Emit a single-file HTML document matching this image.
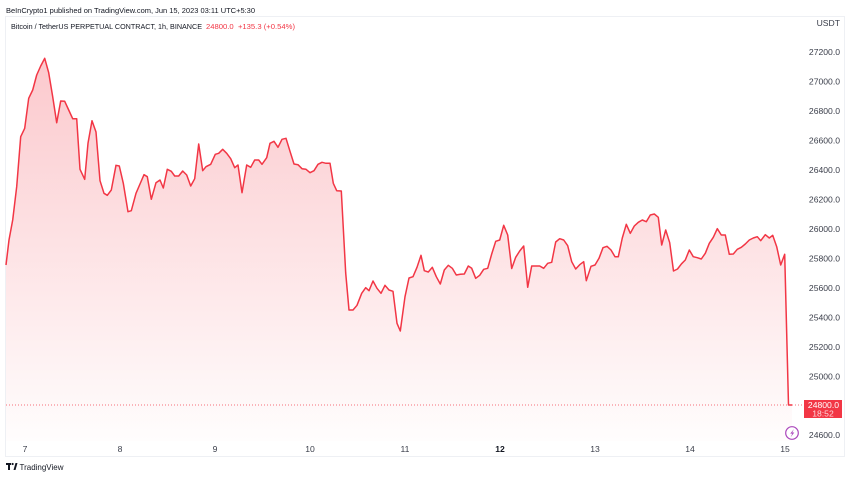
<!DOCTYPE html>
<html>
<head>
<meta charset="utf-8">
<style>
  html,body{margin:0;padding:0;background:#fff;}
  body{width:850px;height:478px;overflow:hidden;}
  svg{display:block;font-family:"Liberation Sans",sans-serif;}
</style>
</head>
<body>
<svg width="850" height="478" viewBox="0 0 850 478" xmlns="http://www.w3.org/2000/svg">
  <defs>
    <linearGradient id="fg" x1="0" y1="58" x2="0" y2="441" gradientUnits="userSpaceOnUse">
      <stop offset="0" stop-color="#f23645" stop-opacity="0.27"/>
      <stop offset="1" stop-color="#f23645" stop-opacity="0.01"/>
    </linearGradient>
  </defs>

  <!-- header -->
  <text x="6" y="13" font-size="7.6" fill="#131722" textLength="249" lengthAdjust="spacingAndGlyphs">BeInCrypto1 published on TradingView.com, Jun 15, 2023 03:11 UTC+5:30</text>

  <!-- frame -->
  <rect x="5.5" y="16.5" width="839" height="440" fill="#fff" stroke="#eef0f4" stroke-width="1"/>

  <text x="11" y="29" font-size="7.4" fill="#131722" textLength="191" lengthAdjust="spacingAndGlyphs">Bitcoin / TetherUS PERPETUAL CONTRACT, 1h, BINANCE</text>
  <text x="206" y="29" font-size="7.4" fill="#f23645" textLength="89" lengthAdjust="spacingAndGlyphs">24800.0 &#160;+135.3 (+0.54%)</text>

  <!-- area fill -->
  <polygon fill="url(#fg)" points="6,441 6,265 9,240 12.7,220 16.7,186.7 20.7,136.7 24.7,128.3 28.7,98.3 32.7,90 36.7,75 40.7,66 44.7,58.3 48.7,72.7 52.7,96.7 56.7,122.7 60.7,101 64.7,101.3 68.7,110 72.7,118.7 76.7,118.7 80,169.3 84.7,179.3 88,143.3 92,120.7 96,132 100,180.7 104,193.3 107.3,195.3 111.3,190 116,165.3 119.3,166 123.3,183.3 128,211.7 131.3,210.7 136,193.3 140,184 144,174.7 147.3,176.7 151.3,199.3 156,182.7 160,180 163.3,188 167.3,169.3 171.3,171.3 174.7,176 178.7,176 182.7,171 186.7,175 190.7,186 194.7,178.7 198.7,144 202.7,170.7 206,166.7 210.7,164.3 215.3,154.3 218.7,153.3 222.7,149.3 226.7,153.3 230.7,158.7 234.7,167.7 238,165 242,192.7 246.7,165 250.7,167.3 254.7,160 258.7,160 262,164.3 266.7,157.7 270,143.3 274,141.3 278,147.3 282,139.3 286,138.3 290,151.3 294,164 298,164.7 302,168.7 306,169.3 310,172.7 314,170.7 318,164.3 322,162.3 326,163.3 330,163.3 333.3,183.3 336.7,190.7 341.3,191 345.7,273 349,310 353,310 357,305.3 361.7,293.3 365.7,287.7 369,290.7 373,281 377,288.3 381,293.3 385,285.3 389,290 393,291.3 397,323.3 400.3,331 405,296.7 409,278 413,276.7 417,267.3 421,255.3 424.3,270.7 428.3,272 432.3,267.3 436.3,276.7 440.3,284 444.3,270 448.3,265.3 452.3,268.3 456.3,275 460.3,274.3 464.3,274 468.3,266 471.7,268.3 475.7,278.3 479.7,275.3 483.7,269.3 487.7,268.3 491.7,254 495.7,241.3 499.7,240 503.7,225.3 507.7,235 511.7,268.5 515.7,257.3 519.7,251 523.7,246 527.7,287.3 531.7,266 535.7,266 539.7,266 543.7,268.3 547.7,263.3 551.7,262.3 555.7,242 559.7,238.7 563.7,240 567.7,245.7 571.7,261.7 575.7,269 579.7,264.7 583.7,261.7 586.3,280.7 591,266.3 595,265 599,258.3 603,247.7 607,246.3 611,250 615,256.7 618.3,256.7 622.3,238 626.3,224.3 630.3,233.3 634.3,226 638.3,222.3 642.3,220 646.3,221.7 650.3,215 654.3,214 658.3,217.3 661.7,245 665.7,230 669.7,242.7 673.5,271 677.5,269 681.5,263.8 685.3,260 689.3,250 693.3,256.7 697.3,257.7 701.3,259 705.3,253.3 709.3,243.3 713.3,237.3 717.3,228.7 721.3,235 725.3,235 729.3,254.3 733.3,254 737.3,249.3 741.3,247.3 745.3,244 749.3,240 753.3,238 757.3,236.7 760.7,240.7 765.3,234.7 769.3,238 772.7,235.3 776.7,246.7 780.7,265 784.7,254.3 788.5,405 792,405 792,441"/>

  <!-- dotted last-price line -->
  <line x1="6" y1="405" x2="804" y2="405" stroke="#f23645" stroke-width="1" stroke-dasharray="1,2" opacity="0.7"/>

  <!-- price line -->
  <polyline fill="none" stroke="#f23645" stroke-width="1.5" stroke-linejoin="round" points="6,265 9,240 12.7,220 16.7,186.7 20.7,136.7 24.7,128.3 28.7,98.3 32.7,90 36.7,75 40.7,66 44.7,58.3 48.7,72.7 52.7,96.7 56.7,122.7 60.7,101 64.7,101.3 68.7,110 72.7,118.7 76.7,118.7 80,169.3 84.7,179.3 88,143.3 92,120.7 96,132 100,180.7 104,193.3 107.3,195.3 111.3,190 116,165.3 119.3,166 123.3,183.3 128,211.7 131.3,210.7 136,193.3 140,184 144,174.7 147.3,176.7 151.3,199.3 156,182.7 160,180 163.3,188 167.3,169.3 171.3,171.3 174.7,176 178.7,176 182.7,171 186.7,175 190.7,186 194.7,178.7 198.7,144 202.7,170.7 206,166.7 210.7,164.3 215.3,154.3 218.7,153.3 222.7,149.3 226.7,153.3 230.7,158.7 234.7,167.7 238,165 242,192.7 246.7,165 250.7,167.3 254.7,160 258.7,160 262,164.3 266.7,157.7 270,143.3 274,141.3 278,147.3 282,139.3 286,138.3 290,151.3 294,164 298,164.7 302,168.7 306,169.3 310,172.7 314,170.7 318,164.3 322,162.3 326,163.3 330,163.3 333.3,183.3 336.7,190.7 341.3,191 345.7,273 349,310 353,310 357,305.3 361.7,293.3 365.7,287.7 369,290.7 373,281 377,288.3 381,293.3 385,285.3 389,290 393,291.3 397,323.3 400.3,331 405,296.7 409,278 413,276.7 417,267.3 421,255.3 424.3,270.7 428.3,272 432.3,267.3 436.3,276.7 440.3,284 444.3,270 448.3,265.3 452.3,268.3 456.3,275 460.3,274.3 464.3,274 468.3,266 471.7,268.3 475.7,278.3 479.7,275.3 483.7,269.3 487.7,268.3 491.7,254 495.7,241.3 499.7,240 503.7,225.3 507.7,235 511.7,268.5 515.7,257.3 519.7,251 523.7,246 527.7,287.3 531.7,266 535.7,266 539.7,266 543.7,268.3 547.7,263.3 551.7,262.3 555.7,242 559.7,238.7 563.7,240 567.7,245.7 571.7,261.7 575.7,269 579.7,264.7 583.7,261.7 586.3,280.7 591,266.3 595,265 599,258.3 603,247.7 607,246.3 611,250 615,256.7 618.3,256.7 622.3,238 626.3,224.3 630.3,233.3 634.3,226 638.3,222.3 642.3,220 646.3,221.7 650.3,215 654.3,214 658.3,217.3 661.7,245 665.7,230 669.7,242.7 673.5,271 677.5,269 681.5,263.8 685.3,260 689.3,250 693.3,256.7 697.3,257.7 701.3,259 705.3,253.3 709.3,243.3 713.3,237.3 717.3,228.7 721.3,235 725.3,235 729.3,254.3 733.3,254 737.3,249.3 741.3,247.3 745.3,244 749.3,240 753.3,238 757.3,236.7 760.7,240.7 765.3,234.7 769.3,238 772.7,235.3 776.7,246.7 780.7,265 784.7,254.3 788.5,405 792,405"/>

  <!-- price axis -->
  <g font-size="8.6" fill="#3a3e4a" text-anchor="end">
    <text x="840" y="26">USDT</text>
    <text x="840" y="55">27200.0</text>
    <text x="840" y="84.5">27000.0</text>
    <text x="840" y="114">26800.0</text>
    <text x="840" y="143.5">26600.0</text>
    <text x="840" y="173">26400.0</text>
    <text x="840" y="202.5">26200.0</text>
    <text x="840" y="232">26000.0</text>
    <text x="840" y="261.5">25800.0</text>
    <text x="840" y="291">25600.0</text>
    <text x="840" y="320.5">25400.0</text>
    <text x="840" y="350">25200.0</text>
    <text x="840" y="379.5">25000.0</text>
    <text x="840" y="438">24600.0</text>
  </g>

  <!-- last price label -->
  <rect x="804" y="400" width="38" height="18" fill="#f23645"/>
  <text x="839" y="408" font-size="8.6" fill="#fff" text-anchor="end">24800.0</text>
  <text x="823" y="416.5" font-size="8.6" fill="#fff" fill-opacity="0.8" text-anchor="middle">18:52</text>

  <!-- lightning icon -->
  <circle cx="792" cy="433" r="6.3" fill="#fff" stroke="#ab47bc" stroke-width="1.2"/>
  <path d="M794,429 L790.2,433.6 L792.3,433.6 L790.6,437.2 L794.3,432.5 L792.2,432.5 Z" fill="#ab47bc"/>

  <!-- time axis -->
  <g font-size="8.6" fill="#3a3e4a" text-anchor="middle">
    <text x="25" y="452">7</text>
    <text x="120" y="452">8</text>
    <text x="215" y="452">9</text>
    <text x="310" y="452">10</text>
    <text x="405" y="452">11</text>
    <text x="500" y="452" font-weight="bold" fill="#131722">12</text>
    <text x="595" y="452">13</text>
    <text x="690" y="452">14</text>
    <text x="785" y="452">15</text>
  </g>

  <!-- TradingView logo -->
  <g fill="#131722">
    <rect x="6" y="463" width="5" height="2"/>
    <rect x="8" y="463" width="2" height="7"/>
    <circle cx="12.6" cy="464" r="1.1"/>
    <path d="M13.5,470 L15.5,463 L17.5,463 L15.5,470 Z"/>
  </g>
  <text x="19.5" y="470" font-size="8.4" fill="#131722" textLength="44" lengthAdjust="spacingAndGlyphs">TradingView</text>
</svg>
</body>
</html>
